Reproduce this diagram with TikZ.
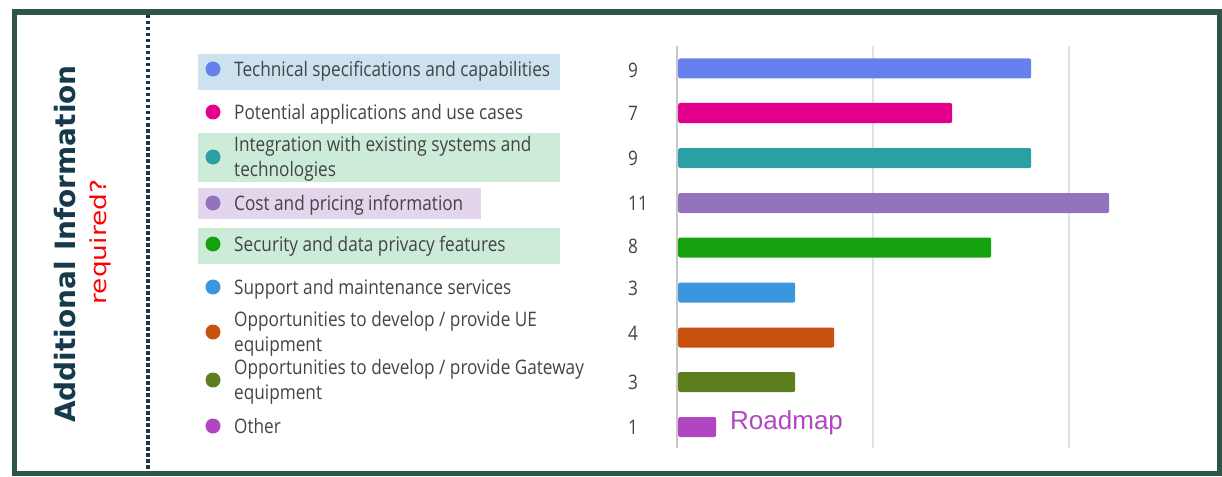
\documentclass[tikz,border=0pt]{standalone}
\usepackage{fontspec}
\setmainfont{Open Sans}[FakeStretch=0.86]
\newfontfamily\titlefont{DejaVu Sans}
\newfontfamily\askfont{DejaVu Sans}[FakeStretch=1.2]
\newfontfamily\roadfont{Liberation Sans}
\usetikzlibrary{positioning}
\definecolor{framegreen}{RGB}{47, 85, 73}
\definecolor{titlenavy}{RGB}{22, 58, 76}
\definecolor{textgray}{RGB}{68, 68, 68}
\definecolor{gridgray}{RGB}{226, 226, 226}
\definecolor{axisgray}{RGB}{200, 200, 200}
\definecolor{hlblue}{RGB}{204, 226, 239}
\definecolor{hlgreen}{RGB}{204, 236, 217}
\definecolor{hlpurple}{RGB}{226, 213, 236}
\definecolor{techblue}{RGB}{102, 128, 238}
\definecolor{appmagenta}{RGB}{227, 0, 140}
\definecolor{integteal}{RGB}{43, 160, 164}
\definecolor{costpurple}{RGB}{148, 115, 190}
\definecolor{secgreen}{RGB}{19, 161, 14}
\definecolor{suppblue}{RGB}{58, 150, 221}
\definecolor{ueorange}{RGB}{202, 80, 16}
\definecolor{gwolive}{RGB}{91, 127, 30}
\definecolor{otherviolet}{RGB}{177, 70, 194}

\begin{document}
\begin{tikzpicture}[
    x=1pt, y=-1pt,
    dot/.style={circle, inner sep=0pt, minimum size=15pt},
    label/.style={anchor=west, inner sep=0pt, align=left, text=textgray, font=\fontsize{20}{25}\selectfont},
    count/.style={anchor=west, inner sep=0pt, text=textgray, font=\fontsize{20}{24}\selectfont},
    bar/.style={anchor=west, rectangle, rounded corners=2pt, minimum height=20pt, inner sep=0pt},
    grid/.style={gridgray, line width=2pt}
]
\useasboundingbox (0,0) rectangle (1222,476);

% Frame and divider
\draw [framegreen, line width=5.5pt] (14.5,12) rectangle (1219.5,473.5);
\draw [titlenavy, line width=3.5pt, dash pattern=on 3.5pt off 2.5pt] (148,15) -- (148,470);

% Title
\node (title) [rotate=90, text=titlenavy, font=\titlefont\fontsize{28}{32}\selectfont\bfseries] at (65,244) {Additional Information};
\node (question) [rotate=90, text=red, font=\askfont\fontsize{22}{26}\selectfont] at (100,242) {required?};

% Highlights
\fill [hlblue] (198,54) rectangle (560,90);
\fill [hlgreen] (198,133) rectangle (560,182);
\fill [hlpurple] (198,188) rectangle (481,219);
\fill [hlgreen] (198,228) rectangle (560,264);

% Legend
\node (dot1) [dot, fill=techblue] at (213,69) {};
\node (lab1) [label] at (234,71) {Technical specifications and capabilities};
\node (dot2) [dot, fill=appmagenta] at (213,112) {};
\node (lab2) [label] at (234,114) {Potential applications and use cases};
\node (dot3) [dot, fill=integteal] at (213,157) {};
\node (lab3) [label] at (234,159) {Integration with existing systems and\\technologies};
\node (dot4) [dot, fill=costpurple] at (213,203) {};
\node (lab4) [label] at (234,205) {Cost and pricing information};
\node (dot5) [dot, fill=secgreen] at (213,244) {};
\node (lab5) [label] at (234,246) {Security and data privacy features};
\node (dot6) [dot, fill=suppblue] at (213,287) {};
\node (lab6) [label] at (234,289) {Support and maintenance services};
\node (dot7) [dot, fill=ueorange] at (213,332) {};
\node (lab7) [label] at (234,334) {Opportunities to develop / provide UE\\equipment};
\node (dot8) [dot, fill=gwolive] at (213,380) {};
\node (lab8) [label] at (234,382) {Opportunities to develop / provide Gateway\\equipment};
\node (dot9) [dot, fill=otherviolet] at (213,426) {};
\node (lab9) [label, anchor=base west] at (234,433) {Other};

% Counts
\node (num1) [count] at (628,70) {9};
\node (num2) [count] at (628,113) {7};
\node (num3) [count] at (628,158) {9};
\node (num4) [count] at (628,203) {11};
\node (num5) [count] at (628,246) {8};
\node (num6) [count] at (628,288) {3};
\node (num7) [count] at (628,333) {4};
\node (num8) [count] at (628,382) {3};
\node (num9) [count] at (628,427) {1};

% Grid
\draw [grid] (873,46) -- (873,448);
\draw [grid] (1069,46) -- (1069,448);
\draw [axisgray, line width=2pt] (677,46) -- (677,448);

% Bars
\node (bar1) [bar, fill=techblue, minimum width=353pt] at (678,68.5) {};
\node (bar2) [bar, fill=appmagenta, minimum width=274pt] at (678,113) {};
\node (bar3) [bar, fill=integteal, minimum width=353pt] at (678,158) {};
\node (bar4) [bar, fill=costpurple, minimum width=431pt] at (678,203) {};
\node (bar5) [bar, fill=secgreen, minimum width=313pt] at (678,247.5) {};
\node (bar6) [bar, fill=suppblue, minimum width=117pt] at (678,292.5) {};
\node (bar7) [bar, fill=ueorange, minimum width=156pt] at (678,337.5) {};
\node (bar8) [bar, fill=gwolive, minimum width=117pt] at (678,382) {};
\node (bar9) [bar, fill=otherviolet, minimum width=38pt] at (678,427) {};

\node (roadmap) [anchor=base west, inner sep=0pt, text=otherviolet, font=\roadfont\fontsize{26}{30}\selectfont] at (730,429) {Roadmap};

\end{tikzpicture}
\end{document}
